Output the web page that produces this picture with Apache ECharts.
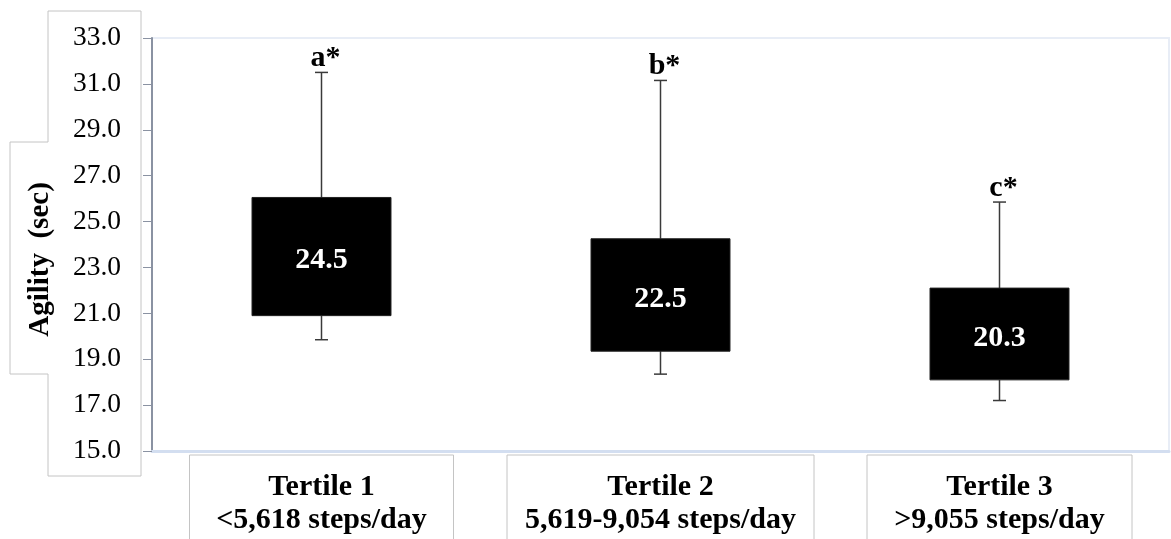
<!DOCTYPE html>
<html>
<head>
<meta charset="utf-8">
<script src="https://cdn.jsdelivr.net/npm/echarts@6/dist/echarts.min.js"></script>
<style>html,body{margin:0;padding:0;background:#fff;}#c{width:1171px;height:539px;}</style>
</head>
<body>
<div id="c"></div>
<script>
const categories = ['Tertile 1\n<5,618 steps/day', 'Tertile 2\n5,619-9,054 steps/day', 'Tertile 3\n>9,055 steps/day'];
const whiskerMin = [19.85, 18.35, 17.2];
const q1 = [20.9, 19.35, 18.1];
const median = [24.5, 22.5, 20.3];
const q3 = [26.05, 24.25, 22.1];
const whiskerMax = [31.5, 31.15, 25.85];
const letters = ['a*', 'b*', 'c*'];
const yTicks = [15, 17, 19, 21, 23, 25, 27, 29, 31, 33];
const labelBoxWidths = [264, 307, 265];

const FONT = "'Liberation Serif', 'Times New Roman', serif";
const chart = echarts.init(document.getElementById('c'));

const seriesData = categories.map((c, i) => [i, whiskerMin[i], q1[i], median[i], q3[i], whiskerMax[i]]);

function renderItem(params, api) {
  const idx = api.value(0);
  const pMin = api.coord([idx, api.value(1)]);
  const pQ1 = api.coord([idx, api.value(2)]);
  const pQ3 = api.coord([idx, api.value(4)]);
  const pMax = api.coord([idx, api.value(5)]);
  const bw = api.size([1, 0])[0] * 0.41;
  const x = pMin[0];
  const cap = 6.5;
  const lineStyle = { stroke: '#3a3a3a', lineWidth: 1.5 };
  const i = params.dataIndex;
  return {
    type: 'group',
    children: [
      { type: 'line', shape: { x1: x, y1: pMax[1], x2: x, y2: pQ3[1] }, style: lineStyle },
      { type: 'line', shape: { x1: x, y1: pQ1[1], x2: x, y2: pMin[1] }, style: lineStyle },
      { type: 'line', shape: { x1: x - cap, y1: pMax[1], x2: x + cap, y2: pMax[1] }, style: lineStyle },
      { type: 'line', shape: { x1: x - cap, y1: pMin[1], x2: x + cap, y2: pMin[1] }, style: lineStyle },
      { type: 'rect', shape: { x: x - bw / 2, y: pQ3[1], width: bw, height: pQ1[1] - pQ3[1] },
        style: { fill: '#000', stroke: '#222', lineWidth: 1 } },
      { type: 'text', style: { x: x, y: (pQ1[1] + pQ3[1]) / 2 + 4, text: median[i].toFixed(1),
        fill: '#fff', font: "bold 30px " + FONT, align: 'center', verticalAlign: 'middle' } },
      { type: 'text', style: { x: x + 4, y: pMax[1] + 1, text: letters[i],
        fill: '#000', font: "bold 30px " + FONT, align: 'center', verticalAlign: 'bottom' } }
    ]
  };
}

chart.setOption({
  animation: false,
  backgroundColor: '#fff',
  grid: { left: 152, right: 2, top: 38, bottom: 88, show: true, borderColor: '#e8edf6', borderWidth: 2, outerBoundsMode: 'none' },
  graphic: [{
    type: 'polyline', z: -10,
    shape: { points: [[48, 11], [141, 11], [141, 476], [48, 476], [48, 374], [10, 374], [10, 142], [48, 142], [48, 11]] },
    style: { stroke: '#c4c4c4', lineWidth: 1, fill: 'none' }
  }],
  xAxis: {
    type: 'category',
    data: categories.map((c, i) => ({ value: c, textStyle: { width: labelBoxWidths[i] } })),
    axisLine: { show: true, lineStyle: { color: '#d3def0', width: 3 } },
    axisTick: { show: false },
    splitLine: { show: false },
    axisLabel: {
      interval: 0, margin: 4,
      fontFamily: FONT, fontSize: 30, fontWeight: 'bold', color: '#000',
      lineHeight: 33, align: 'center',
      borderColor: '#c4c4c4', borderWidth: 1,
      padding: [16, 0, 40, 0],
      overflow: 'none'
    }
  },
  yAxis: {
    type: 'value', min: 15, max: 33, interval: 2,
    name: 'Agility  (sec)', nameLocation: 'middle', nameGap: 97, nameRotate: 90,
    nameTextStyle: { fontFamily: FONT, fontSize: 29, fontWeight: 'bold', color: '#000', padding: [0, 30, 0, 0] },
    axisLine: { show: true, lineStyle: { color: '#8a92a2', width: 2 } },
    axisTick: { show: true, length: 9, lineStyle: { color: '#8a92a2', width: 1 } },
    splitLine: { show: false },
    axisLabel: {
      margin: 31, fontFamily: FONT, fontSize: 27.5, color: '#000',
      lineHeight: 34, verticalAlign: 'middle', padding: [9, 0, 0, 0],
      formatter: v => yTicks.includes(v) ? v.toFixed(1) : ''
    }
  },
  series: [{
    type: 'custom',
    renderItem: renderItem,
    data: seriesData,
    encode: { x: 0, y: [1, 2, 3, 4, 5] },
    clip: false
  }]
});
</script>
</body>
</html>
